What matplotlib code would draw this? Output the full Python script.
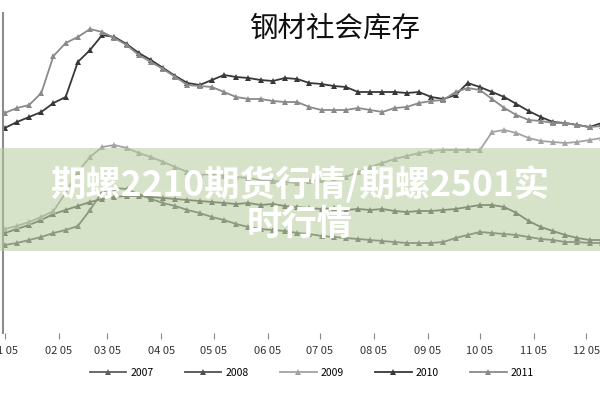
import matplotlib
matplotlib.use("Agg")
import matplotlib.pyplot as plt
import matplotlib.dates as mdates
import pandas as pd
from matplotlib.patches import Rectangle

plt.rcParams["font.family"] = ["Noto Sans CJK SC", "DejaVu Sans"]

title = "钢材社会库存"
banner_text = "期螺2210期货行情/期螺2501实\n时行情"

# weekly readings, starting on 01-05
weeks = pd.date_range("2011-01-05", periods=50, freq="7D")
tick_dates = pd.date_range("2011-01-01", periods=12, freq="MS") + pd.Timedelta(days=4)

inv_2007 = [440, 450, 465, 480, 500, 515, 535, 615, 705, 725, 720, 695, 670, 650, 635, 615, 600,
            580, 565, 545, 530, 520, 515, 510, 500, 495, 485, 480, 475, 470, 465, 460, 455, 450,
            450, 450, 455, 475, 490, 505, 500, 495, 490, 480, 470, 465, 455, 455, 450, 450]
inv_2008 = [500, 520, 540, 565, 595, 615, 635, 655, 670, 680, 685, 685, 680, 675, 670, 665, 660,
            655, 650, 645, 650, 640, 645, 635, 630, 625, 620, 625, 615, 620, 615, 620, 610, 605,
            610, 610, 615, 620, 630, 640, 640, 630, 600, 560, 530, 510, 490, 475, 465, 465]
inv_2009 = [520, 535, 555, 580, 610, 700, 805, 880, 930, 940, 925, 900, 880, 855, 830, 805, 790,
            795, 785, 780, 775, 765, 760, 755, 750, 760, 765, 775, 780, 805, 830, 850, 870, 885,
            900, 910, 915, 915, 915, 915, 1005, 1015, 1000, 975, 960, 955, 950, 955, 965, 975]
inv_2010 = [1025, 1055, 1080, 1105, 1150, 1180, 1355, 1415, 1490, 1480, 1445, 1400, 1365, 1325,
            1285, 1250, 1240, 1265, 1290, 1280, 1275, 1265, 1260, 1275, 1270, 1250, 1245, 1235,
            1230, 1205, 1205, 1205, 1205, 1200, 1205, 1180, 1170, 1190, 1250, 1230, 1205, 1180,
            1145, 1110, 1080, 1055, 1050, 1040, 1030, 1050]
inv_2011 = [1100, 1125, 1140, 1200, 1385, 1450, 1480, 1520, 1505, 1475, 1440, 1390, 1355, 1320,
            1280, 1240, 1235, 1230, 1205, 1180, 1170, 1170, 1160, 1155, 1155, 1130, 1115, 1115,
            1115, 1125, 1115, 1105, 1125, 1130, 1150, 1160, 1165, 1205, 1225, 1215, 1170, 1125,
            1090, 1065, 1060, 1050, 1050, 1040, 1030, 1035]

years = ["2007", "2008", "2009", "2010", "2011"]
series = [inv_2007, inv_2008, inv_2009, inv_2010, inv_2011]
colors = ["#5e5e5e", "#4f4f4f", "#a3a3a3", "#383838", "#8a8a8a"]

fig = plt.figure(figsize=(6, 4), dpi=100)
ax = fig.add_axes([0.005, 0.1675, 0.995, 0.8])

for year, values, color in zip(years, series, colors):
    ax.plot(weeks, values, color=color, linewidth=1.3, marker="^", markersize=4.5,
            markeredgewidth=0, label=year)

ax.set_xticks(tick_dates)
ax.xaxis.set_major_formatter(mdates.DateFormatter("%m %d"))
ax.set_xlim(weeks[0] - pd.Timedelta(days=1), weeks[0] + pd.Timedelta(days=342))
ax.set_ylim(0, 1600)
ax.tick_params(axis="x", length=4, color="#888888", labelsize=8, labelcolor="#333333", pad=5)
ax.set_yticks([])
for side in ("top", "right", "bottom"):
    ax.spines[side].set_visible(False)
ax.spines["left"].set_color("#8c8c8c")
ax.spines["left"].set_linewidth(1.5)

fig.text(0.557, 0.928, title, ha="center", va="center", fontsize=20.5, color="#111111")

fig.legend(loc="center", bbox_to_anchor=(0.52, 0.068), ncol=5, frameon=False, fontsize=7.5,
           handlelength=3.5, columnspacing=3.0, handletextpad=0.4, numpoints=1)

fig.patches.append(Rectangle((0, 0.3725), 1, 0.2575, transform=fig.transFigure,
                             facecolor="#b5cc9c", alpha=0.55, edgecolor="none", zorder=5))
fig.text(0.5, 0.49, banner_text, ha="center", va="center", fontsize=25.5, fontweight="bold",
         color="white", linespacing=1.15, zorder=6)

fig.savefig("out.png", dpi=100)
